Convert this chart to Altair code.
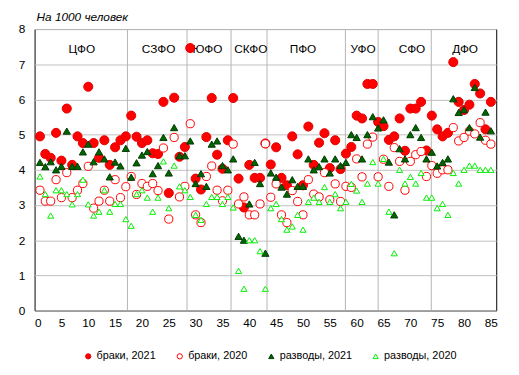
import altair as alt
import pandas as pd

idx = list(range(1, 86))

brak_2021 = [4.95, 4.45, 4.34, 5.05, 4.26, 5.74, 4.14, 4.95, 4.76, 6.36,
             4.76, 4.34, 4.84, 4.14, 4.64, 4.84, 4.95, 5.54, 4.94, 4.76,
             4.84, 4.47, 4.45, 5.93, 3.34, 6.05, 4.37, 4.65, 7.46, 3.75,
             3.44, 4.93, 6.04, 4.43, 4.03, 4.84, 6.04, 3.75, 2.93, 4.14,
             3.77, 3.77, 4.75, 4.15, 4.64, 3.77, 3.56, 4.95, 4.44, 3.56,
             5.23, 4.14, 4.77, 5.04, 4.05, 4.84, 4.02, 4.46, 4.65, 5.54,
             5.46, 6.44, 6.44, 5.36, 5.24, 4.85, 4.95, 5.46, 4.54, 5.74,
             5.74, 5.93, 4.55, 5.54, 5.15, 4.95, 5.05, 7.06, 5.93, 5.70,
             5.85, 6.44, 6.17, 5.15, 5.93]

brak_2020 = [3.42, 3.11, 3.11, 3.72, 3.21, 3.92, 3.21, 3.42, 3.61, 4.10,
             2.91, 3.11, 3.42, 3.11, 3.72, 3.21, 3.52, 3.81, 3.30, 3.61,
             3.53, 3.61, 3.41, 4.62, 2.60, 4.92, 3.23, 3.53, 5.31, 2.72,
             2.50, 3.81, 4.11, 3.42, 3.12, 3.42, 4.73, 3.03, 3.23, 2.72,
             2.72, 3.03, 4.74, 3.22, 3.60, 2.72, 2.50, 3.41, 3.10, 2.72,
             3.72, 3.31, 3.23, 3.92, 3.15, 3.60, 3.10, 3.53, 3.50, 4.31,
             3.80, 4.73, 4.93, 3.80, 4.30, 3.53, 4.63, 4.24, 3.42, 4.24,
             4.43, 4.52, 3.81, 4.12, 3.90, 4.00, 4.00, 5.20, 4.82, 4.92,
             5.10, 5.02, 5.34, 4.84, 4.73]

razv_2021 = [4.21, 4.09, 4.23, 4.00, 4.10, 5.10, 4.10, 4.10, 4.51, 4.73,
             4.23, 4.51, 4.31, 3.80, 4.22, 4.11, 4.61, 3.79, 4.20, 4.42,
             4.52, 3.89, 4.12, 4.92, 3.91, 5.20, 4.40, 4.40, 4.82, 3.61,
             3.89, 3.53, 4.73, 4.82, 4.12, 4.00, 4.31, 2.11, 2.00, 3.03,
             4.21, 3.61, 1.63, 3.91, 3.79, 3.51, 3.31, 3.72, 3.53, 3.53,
             4.31, 4.00, 4.09, 4.31, 3.91, 4.31, 4.12, 4.21, 5.00, 4.92,
             4.31, 5.00, 5.51, 5.19, 5.42, 4.22, 2.72, 4.60, 4.31, 5.00,
             5.20, 4.92, 4.31, 4.50, 4.11, 4.21, 4.31, 6.02, 5.63, 5.71,
             5.20, 6.34, 4.93, 5.64, 5.11]

razv_2020 = [3.81, 3.31, 2.70, 3.42, 3.42, 3.31, 3.02, 3.31, 3.72, 3.02,
             2.70, 2.81, 3.42, 2.81, 3.03, 3.03, 2.60, 2.41, 3.31, 3.42,
             3.21, 2.81, 3.21, 4.24, 2.91, 4.12, 3.53, 3.42, 3.23, 2.72,
             2.58, 3.03, 3.23, 3.23, 3.03, 3.23, 2.93, 1.13, 0.62, 2.00,
             2.00, 1.69, 0.62, 2.91, 3.03, 2.60, 2.30, 2.39, 2.72, 2.30,
             3.09, 3.21, 3.09, 3.51, 3.09, 3.31, 2.91, 3.09, 3.60, 3.41,
             3.09, 3.61, 4.22, 3.61, 4.31, 2.81, 1.63, 4.00, 3.61, 3.80,
             3.61, 3.91, 3.21, 3.21, 2.91, 3.03, 2.72, 3.91, 3.61, 4.00,
             4.12, 4.12, 4.00, 4.00, 4.00]

series_names = ["браки, 2021", "браки, 2020", "разводы, 2021", "разводы, 2020"]

district_names = ["ЦФО", "СЗФО", "ЮФО", "СКФО", "ПФО", "УФО", "СФО", "ДФО"]
district_label_x = [8.8, 23.1, 32.2, 40.3, 50.0, 61.2, 70.3, 80.2]
district_bounds = [17.3, 28.4, 36.6, 43.3, 57.9, 64.0, 73.9]

x_ticks = list(range(0, 90, 5))
y_ticks = list(range(0, 9))

rows = []
for k, (name, vals) in enumerate(zip(series_names, [brak_2021, brak_2020, razv_2021, razv_2020])):
    for i, v in zip(idx, vals):
        rows.append({"x": i, "y": v, "series": name, "ord": k})
df = pd.DataFrame(rows)

FONT = "Liberation Sans"

x_scale = alt.Scale(domain=[0, 86], nice=False, zero=False)
y_scale = alt.Scale(domain=[0, 8], nice=False)

x_axis = alt.Axis(values=x_ticks, title=None, grid=False, ticks=False, labelPadding=7,
                  domain=False, labelFontSize=12, labelFont=FONT, labelColor="#000000",
                  labelOverlap=False)
y_axis = alt.Axis(values=y_ticks, title=None, grid=True, gridColor="#c0c0c0", gridOpacity=1,
                  ticks=False, labelPadding=10, domain=False, labelFontSize=12,
                  labelFont=FONT, labelColor="#000000", labelOverlap=False)

X = lambda f: alt.X(f, scale=x_scale, axis=x_axis)
Y = lambda f: alt.Y(f, scale=y_scale, axis=y_axis)

bounds = alt.Chart(pd.DataFrame({"b": district_bounds})).mark_rule(
    color="#b4b4b4", strokeWidth=1
).encode(x=X("b:Q"))

labels = alt.Chart(pd.DataFrame({"x": district_label_x, "name": district_names,
                                 "y": [7.43] * len(district_names)})).mark_text(
    fontSize=12, font=FONT, color="#000000", align="center", baseline="middle"
).encode(x=X("x:Q"), y=Y("y:Q"), text="name:N")

title = alt.Chart(pd.DataFrame({"t": ["На 1000 человек"]})).mark_text(
    fontSize=12, font=FONT, fontStyle="italic", align="left", baseline="middle", color="#000000"
).encode(x=alt.value(2), y=alt.value(-12.5), text="t:N")

legend = alt.Legend(orient="none", legendX=49, legendY=327, direction="horizontal",
                    columns=4, gridAlign="none", title=None, labelFontSize=11, labelFont=FONT,
                    labelColor="#000000", symbolSize=28, symbolStrokeWidth=1,
                    columnPadding=18, labelOffset=3)

points = alt.Chart(df).mark_point(opacity=1, strokeWidth=1, fillOpacity=1).encode(
    x=X("x:Q"),
    y=Y("y:Q"),
    shape=alt.Shape("series:N", sort=series_names,
                    scale=alt.Scale(domain=series_names,
                                    range=["circle", "circle", "triangle-up", "triangle-up"]),
                    legend=legend),
    fill=alt.Fill("series:N", sort=series_names,
                  scale=alt.Scale(domain=series_names,
                                  range=["#ff0000", "#ffffff", "#006400", "#ffffff"])),
    stroke=alt.Stroke("series:N", sort=series_names,
                      scale=alt.Scale(domain=series_names,
                                      range=["#e00000", "#ff0000", "#003a00", "#00ee00"])),
    size=alt.Size("ord:O", scale=alt.Scale(domain=[0, 1, 2, 3], range=[85, 38, 75, 36]),
                  legend=None),
    order=alt.Order("ord:Q"),
)

chart = alt.layer(bounds, labels, points, title).properties(
    width=469, height=286,
    autosize=alt.AutoSizeParams(type="none"),
    padding={"left": 27, "top": 18.5, "right": 15, "bottom": 58},
).configure_view(
    stroke="#000000", strokeWidth=1
)

chart.save("out.html", embed_options={"renderer": "svg", "actions": False})
